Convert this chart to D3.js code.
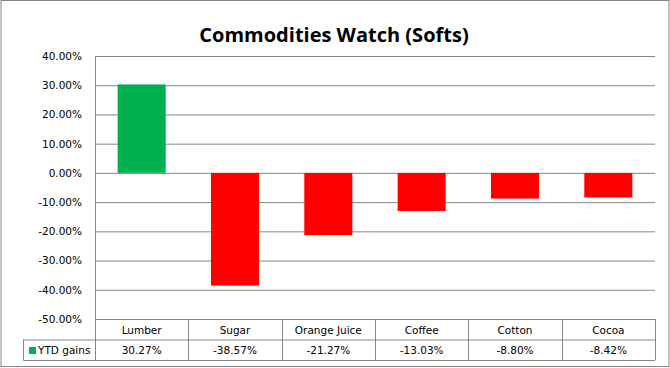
<!DOCTYPE html>
<html>
<head>
<meta charset="utf-8">
<script src="https://cdn.jsdelivr.net/npm/d3@7"></script>
<style>
  body { margin: 0; background: #fff; }
  svg text { font-family: "DejaVu Sans", Tahoma, sans-serif; }
</style>
</head>
<body>
<div id="chart"></div>
<script>
// data
var categories = ["Lumber", "Sugar", "Orange Juice", "Coffee", "Cotton", "Cocoa"];
var ytdGains = [30.27, -38.57, -21.27, -13.03, -8.80, -8.42];
var yTicks = [40, 30, 20, 10, 0, -10, -20, -30, -40, -50];
var seriesName = "YTD gains";

var W = 670, H = 368;
var plot = { left: 95, right: 655, top: 56, bottom: 319 };
var rowH = 20.5;

var svg = d3.select("#chart").append("svg")
    .attr("width", W)
    .attr("height", H);

svg.append("rect")
    .attr("x", 1).attr("y", 0.5)
    .attr("width", W - 2).attr("height", H - 2)
    .attr("fill", "#fff")
    .attr("stroke", "#868686");

svg.append("text")
    .attr("x", 334)
    .attr("y", 42)
    .attr("text-anchor", "middle")
    .style("font-family", "'Open Sans', Lato, sans-serif")
    .style("font-weight", "bold")
    .style("font-size", "20px")
    .text("Commodities Watch (Softs)");

var x = d3.scaleBand()
    .domain(categories)
    .range([plot.left, plot.right])
    .paddingInner(0.485)
    .paddingOuter(0.2425);

var xCell = d3.scaleBand()
    .domain(categories)
    .range([plot.left, plot.right]);

var y = d3.scaleLinear()
    .domain([-50, 40])
    .range([plot.bottom, plot.top]);

// gridlines + y labels via axis
var yAxis = d3.axisLeft(y)
    .tickValues(yTicks)
    .tickSize(-(plot.right - plot.left))
    .tickFormat(function(d) { return d.toFixed(2) + "%"; });

var gy = svg.append("g")
    .attr("transform", "translate(" + plot.left + ",0)")
    .call(yAxis);
gy.select(".domain").remove();
gy.selectAll(".tick line").attr("stroke", "#868686").attr("stroke-width", 1);
gy.selectAll(".tick text")
    .attr("x", -13)
    .attr("fill", "#000")
    .style("font-size", "10.5px");

// bars
svg.selectAll(".bar")
    .data(ytdGains)
    .enter()
    .append("rect")
    .attr("class", "bar")
    .attr("x", function(d, i) { return x(categories[i]); })
    .attr("width", x.bandwidth())
    .attr("y", function(d) { return y(Math.max(0, d)); })
    .attr("height", function(d) { return Math.abs(y(d) - y(0)); })
    .attr("fill", function(d) { return d >= 0 ? "#00B050" : "#FF0000"; });

// data table
var tbl = svg.append("g").attr("stroke", "#868686").attr("fill", "none");
var tTop = plot.bottom, tMid = tTop + rowH, tBot = tMid + rowH;
var legLeft = 23.5;

tbl.append("line").attr("x1", plot.left + 0.5).attr("x2", plot.left + 0.5)
    .attr("y1", plot.top).attr("y2", tBot);
tbl.append("line").attr("x1", legLeft).attr("x2", plot.right)
    .attr("y1", tMid + 0.5).attr("y2", tMid + 0.5);
tbl.append("line").attr("x1", legLeft).attr("x2", plot.right)
    .attr("y1", tBot + 0.5).attr("y2", tBot + 0.5);
tbl.append("line").attr("x1", legLeft).attr("x2", legLeft)
    .attr("y1", tMid).attr("y2", tBot + 0.5);
categories.forEach(function(c) {
    var xr = Math.round(xCell(c) + xCell.bandwidth()) + 0.5;
    tbl.append("line").attr("x1", xr).attr("x2", xr)
        .attr("y1", tTop).attr("y2", tBot);
});

svg.selectAll(".cat")
    .data(categories)
    .enter()
    .append("text")
    .attr("x", function(d) { return xCell(d) + xCell.bandwidth() / 2; })
    .attr("y", tTop + 14.5)
    .attr("text-anchor", "middle")
    .style("font-size", "10.5px")
    .text(function(d) { return d; });

svg.selectAll(".val")
    .data(ytdGains)
    .enter()
    .append("text")
    .attr("x", function(d, i) { return xCell(categories[i]) + xCell.bandwidth() / 2; })
    .attr("y", tMid + 14.5)
    .attr("text-anchor", "middle")
    .style("font-size", "10.5px")
    .text(function(d) { return d.toFixed(2) + "%"; });

// legend key
svg.append("rect")
    .attr("x", 29).attr("y", 347)
    .attr("width", 7).attr("height", 7)
    .attr("fill", "#00B050");
svg.append("text")
    .attr("x", 38)
    .attr("y", tMid + 14.5)
    .style("font-size", "10.5px")
    .text(seriesName);
</script>
</body>
</html>
